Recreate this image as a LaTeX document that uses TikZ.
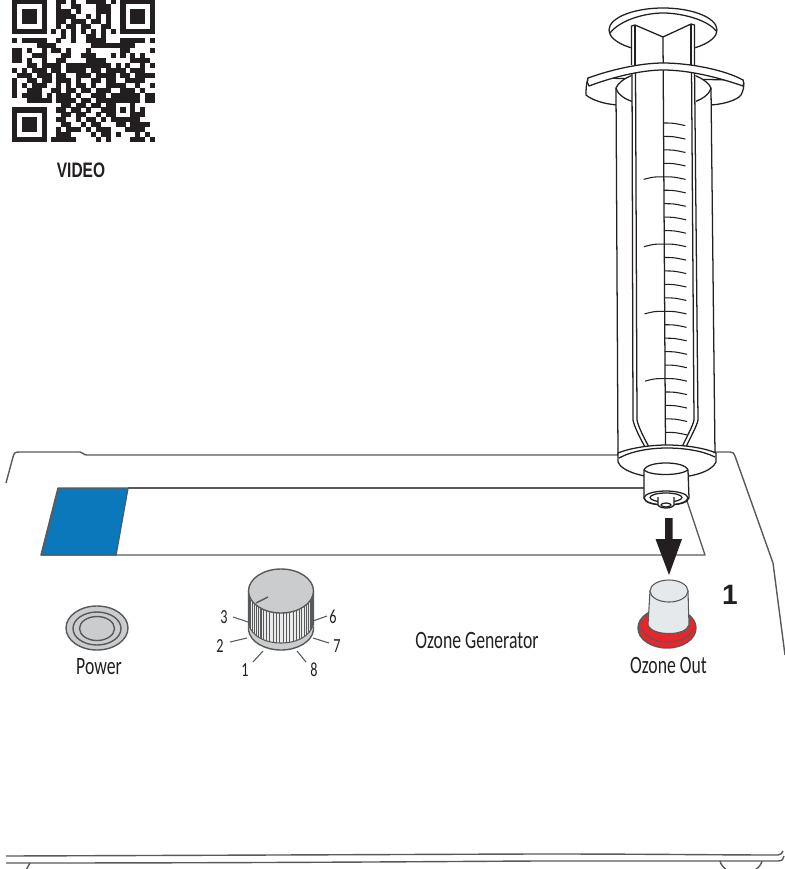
\documentclass[tikz,border=0pt]{standalone}
\usepackage{fontspec}
\setmainfont{Carlito}[FakeStretch=0.71]
\newfontfamily\numfont{Liberation Sans}
\newfontfamily\videofont{Liberation Sans}[FakeStretch=0.74]
\usetikzlibrary{positioning, arrows.meta}
\definecolor{panelgray}{HTML}{58595B}
\definecolor{syrblack}{HTML}{231F20}
\definecolor{screenblue}{HTML}{0A78BA}
\definecolor{knobgray}{HTML}{CBCCCE}
\definecolor{capgray}{HTML}{E6E9EB}
\definecolor{basered}{HTML}{E5262A}
\newcount\qrcol
\def\qrbits#1{\ifx#1.\relax\else\ifx#11\fill[syrblack] ({12+4.93*\the\qrcol},{-1+4.93*\qrrow}) rectangle +(5.05,5.05);\fi\advance\qrcol by 1 \expandafter\qrbits\fi}

\begin{document}
\begin{tikzpicture}[
  x=0.75pt, y=-0.75pt,
  every node/.style={font=\fontsize{18.7}{20}\selectfont, text=syrblack, inner sep=0pt},
  dial/.style={font=\fontsize{15}{16}\selectfont},
  panel/.style={draw=panelgray, line width=1.05pt, line join=round},
  thin panel/.style={draw=panelgray, line width=0.8pt},
  syr/.style={draw=syrblack, line width=0.95pt, line join=round},
  tick/.style={draw=syrblack, line width=0.8pt}
]
  \path[use as bounding box, clip] (0,0) rectangle (785,869);

  \foreach \qrline [count=\qrrow from 0] in {
    11111110011010011110101111111,
    10000010010011000111001000001,
    10111010011101000111001011101,
    10111010011110010101001011101,
    10111010011011101101001011101,
    10000010010110110011001000001,
    11111110101010101010101111111,
    00000000001010011010000000000,
    10111110010010011110001111101,
    00000111100000001111111110000,
    11010010110100010000001100001,
    11001110001100111000101010100,
    11010010011000011110000011110,
    00011011110111111111010100101,
    10101110110111101101111011100,
    01110111011001110111101101111,
    10011011011101001101100111100,
    10101110010101101001111001001,
    10011100110110110111001110100,
    10111101011101001110111111011,
    00011111011110110111111111011,
    00000000001101101101100010000,
    11111110011011010011101010100,
    10000010001101100101100011100,
    10111010011001011010111111000,
    10111010001100101100011011110,
    10111010010111010111000111100,
    10000010011100001011010001010,
    11111110111110000101000011101} {
    \qrcol=0
    \expandafter\qrbits\qrline.
  }
  \node[font=\videofont\bfseries\fontsize{15.7}{18}\selectfont] (video) at (81,170) {VIDEO};

  \draw[panel] (6,483) -- (13,457) .. controls (14,453) and (15,452) .. (19,452) -- (80,452) .. controls (83,452) and (83,455) .. (87,455) -- (640,455);
  \draw[panel] (700,452) -- (730,452) .. controls (733,452) and (734,453) .. (735,456) -- (773,563) -- (785,655);
  \draw[panel] (128,488) -- (660,488);
  \draw[panel] (41,555) -- (705,555) -- (685,495);
  \fill[screenblue] (58,488) -- (128,488) -- (116,555) -- (41,555) -- cycle;
  \draw[panel] (128,488) -- (116,555) -- (41,555) -- (58,488) -- cycle;

  \draw[panel] (6,856) .. controls (300,855) and (500,854) .. (545,854) .. controls (650,854) and (720,855) .. (778,855) .. controls (781,855) and (782,853) .. (783,851);
  \draw[panel] (6,863) .. controls (300,863) and (500,861) .. (545,861) .. controls (650,861) and (720,861) .. (778,861) .. controls (782,861) and (784,859) .. (784,856);
  \draw[panel] (30,863) -- (26,870);
  \draw[panel] (720,861) .. controls (721,865) and (723,867) .. (727,870);
  \draw[panel] (762,861) .. controls (761,865) and (759,867) .. (755,870);

  \draw[syr, fill=white] (663,30) ellipse [x radius=54, y radius=22];
  \draw[syr] (610,33) .. controls (620,20) and (645,13) .. (663,13) .. controls (682,13) and (708,20) .. (716,31);

  \draw[syr, fill=white] (588,78) .. controls (586,85) and (586,90) .. (586,95) .. controls (592,100) and (604,104) .. (617,105) -- (711,105) .. controls (725,104) and (737,100) .. (741,95) .. controls (743,91) and (745,86) .. (743,80) -- cycle;

  \draw[syr, fill=white] (616,88) .. controls (620,78) and (640,70) .. (663,70) .. controls (686,70) and (707,78) .. (711,88) -- (715,455) -- (618,455) -- cycle;
  \draw[syr] (616,88) .. controls (618,95) and (625,100) .. (640,104);
  \draw[syr] (711,88) .. controls (709,95) and (702,100) .. (688,104);

  \fill[white] (631.5,25) -- (663,37) -- (695,24) -- (698,420) -- (685,447) -- (645,447) -- (633,420) -- cycle;
  \draw[syr] (631.5,65) -- (631.5,26) -- (635,25) -- (663,37) -- (691,24) -- (694.5,25) -- (694.5,65);
  \draw[syr] (635,25) -- (635,65);
  \draw[syr] (691,24) -- (691,65);
  \draw[syr] (663,37) -- (665.5,447);
  \draw[syr] (632,66) -- (633,420) .. controls (634,426) and (640,438) .. (645,447);
  \draw[syr] (635.5,66) -- (637,420) .. controls (638,426) and (644,438) .. (649,447);
  \draw[syr] (691.5,66) -- (694,420) .. controls (693,426) and (686,438) .. (682,447);
  \draw[syr] (694.5,66) -- (698,420) .. controls (697,426) and (690,438) .. (686,447);

  \foreach \k in {0,...,23} {
    \pgfmathsetmacro{\ty}{123+13.45*\k}
    \pgfmathsetmacro{\tx}{662.7+0.0065*(\ty-37)}
    \draw[tick] (\tx,\ty) .. controls ({\tx+10},\ty) .. ({\tx+22},{\ty+2.6});
    \pgfmathparse{int(mod(\k,5))}
    \ifnum\pgfmathresult=4
      \draw[tick] (\tx,\ty) .. controls ({\tx-10},\ty) .. ({\tx-20},{\ty+2.6});
    \fi
  }

  \draw[syr, fill=white] (588,78) .. controls (610,70) and (640,63) .. (663,63) .. controls (690,63) and (725,70) .. (743,80) .. controls (744,82) and (744,84) .. (743,86) .. controls (720,78) and (690,70) .. (663,70) .. controls (640,70) and (610,78) .. (589,86) .. controls (587,84) and (587,81) .. (588,78) -- cycle;

  \draw[syr, fill=white] (618,453) .. controls (630,448) and (650,445) .. (667,445) .. controls (685,445) and (705,448) .. (716,453) -- (716,462) .. controls (712,472) and (690,478) .. (667,478) .. controls (645,478) and (622,472) .. (618,462) -- cycle;
  \draw[syr] (619,458) .. controls (632,451) and (650,448) .. (667,448) .. controls (685,448) and (703,451) .. (715,457);

  \draw[syr, fill=white] (644,470) .. controls (646,465) and (656,463) .. (666,463) .. controls (676,463) and (686,465) .. (688,470) -- (689,498) .. controls (688,503) and (678,505) .. (666,505) .. controls (654,505) and (645,503) .. (644,498) -- cycle;
  \draw[syr] (644,470) .. controls (650,476) and (680,476) .. (688,470);
  \draw[syr] (666,498) ellipse [x radius=22, y radius=7];
  \draw[syr] (666,497.5) ellipse [x radius=16, y radius=4.5];
  \draw[syr, fill=white] (658,497) -- (658,505) .. controls (660,509) and (672,509) .. (674,505) -- (674,497);
  \draw[syr] (666,505) ellipse [x radius=5, y radius=2];

  \fill[syrblack] (665,518) -- (672.5,518) -- (672.5,539) -- (682,539) -- (669,575) -- (655.5,539) -- (665,539) -- cycle;

  \draw[panel, fill=basered] (667,628) ellipse [x radius=29, y radius=20];
  \draw[thin panel] (641,628) .. controls (645,637) and (655,642) .. (667,642) .. controls (680,642) and (690,637) .. (694,628);
  \draw[thin panel, fill=capgray] (650,591) -- (648,625) .. controls (650,631) and (660,633.5) .. (669,633.5) .. controls (678,633.5) and (687,631) .. (689,625) -- (688,591) -- cycle;
  \draw[thin panel, fill=capgray] (669,591) ellipse [x radius=19, y radius=11];
  \node (outlabel) at (668.5,665) {Ozone Out};
  \node[font=\numfont\bfseries\fontsize{21}{24}\selectfont] (stepone) at (730,595) {1};
  \node (genlabel) at (477,640) {Ozone Generator};

  \draw[panel, fill=knobgray] (97,628) ellipse [x radius=31, y radius=22];
  \draw[panel] (97,628.5) ellipse [x radius=24, y radius=16.5];
  \draw[panel] (97,628.5) ellipse [x radius=17.5, y radius=12];
  \node (power) at (99,667) {Power};

  \draw[panel, fill=knobgray] (248.5,591) -- (248.5,630) .. controls (250,642) and (265,650) .. (281,650) .. controls (297,650) and (312,642) .. (313.5,630) -- (313.5,591) -- cycle;
  \fill[white!60!knobgray] (248.5,597) -- (248.5,626) .. controls (252,637) and (266,643) .. (281,643) .. controls (296,643) and (310,637) .. (313.5,626) -- (313.5,597) -- cycle;
  \foreach \a in {8,14,...,176} {
    \draw[thin panel] ({281+32.5*cos(\a)},{592+21*sin(\a)}) -- ({281+32.5*cos(\a)},{622+21*sin(\a)});
  }
  \draw[thin panel] (248.5,624) .. controls (252,637) and (266,643) .. (281,643) .. controls (296,643) and (310,637) .. (313.5,624);
  \draw[panel, fill=knobgray] (281,591) ellipse [x radius=32.5, y radius=22];
  \draw[panel] (256,603) -- (268,597);

  \foreach \xa/\ya/\xb/\yb in {233/617/248/622, 230/642/247/638, 253/662/263/651, 297/651/306/662, 313/638/329/643, 313/621/327/616} {
    \draw[thin panel] (\xa,\ya) -- (\xb,\yb);
  }
  \node[dial] (dialthree) at (224,617) {3};
  \node[dial] (dialtwo) at (220,646) {2};
  \node[dial] (dialone) at (245,670) {1};
  \node[dial] (dialeight) at (314,670) {8};
  \node[dial] (dialseven) at (337,646) {7};
  \node[dial] (dialsix) at (333,617) {6};
\end{tikzpicture}
\end{document}
